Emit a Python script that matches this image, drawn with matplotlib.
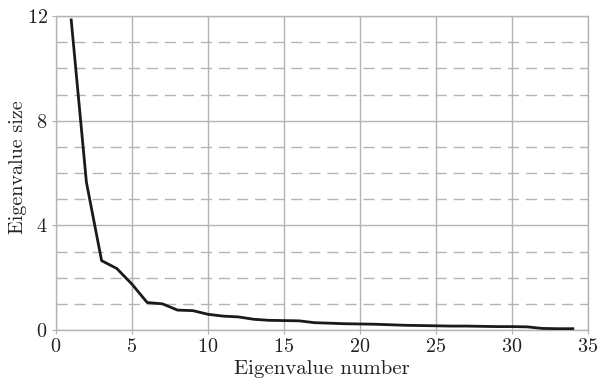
import matplotlib
matplotlib.use('Agg')
import matplotlib.pyplot as plt
from matplotlib.ticker import MultipleLocator

# eigenvalue index and size
eig_num = list(range(1, 35))
eig_size = [11.85, 5.65, 2.65, 2.35, 1.75, 1.05, 1.0, 0.76, 0.74, 0.6,
            0.53, 0.5, 0.41, 0.37, 0.36, 0.35, 0.28, 0.26, 0.24, 0.23,
            0.22, 0.2, 0.18, 0.17, 0.16, 0.15, 0.15, 0.14, 0.13, 0.13,
            0.12, 0.06, 0.05, 0.05]

plt.rcParams['font.family'] = ['cmr10', 'DejaVu Serif']
plt.rcParams['axes.formatter.use_mathtext'] = True

grid_col = '#b4b4b4'
text_col = '#222222'

fig = plt.figure(figsize=(6.01, 3.86), dpi=100)
ax = fig.add_axes([56/601, 1 - 330/386, 532/601, 314/386])

ax.plot(eig_num, eig_size, color='#1a1a1a', lw=2.0, zorder=3,
        solid_joinstyle='round')

ax.set_xlim(0, 35)
ax.set_ylim(0, 12)
ax.xaxis.set_major_locator(MultipleLocator(5))
ax.yaxis.set_major_locator(MultipleLocator(4))
ax.yaxis.set_minor_locator(MultipleLocator(1))

ax.grid(which='major', color=grid_col, lw=1.0)
ax.grid(which='minor', axis='y', color=grid_col, lw=1.0, linestyle=(0, (8, 5)))
ax.set_axisbelow(True)

for s in ax.spines.values():
    s.set_color(grid_col)
    s.set_linewidth(1.0)

ax.tick_params(which='major', colors=grid_col, length=3, labelcolor=text_col,
               labelsize=14.5, pad=3)
ax.tick_params(which='minor', length=0)

ax.set_xlabel('Eigenvalue number', fontsize=15, color=text_col, labelpad=3)
ax.set_ylabel('Eigenvalue size', fontsize=14.5, color=text_col, va='center')
ax.yaxis.set_label_coords(-0.072, 0.52)

fig.savefig('out.png', dpi=100)
